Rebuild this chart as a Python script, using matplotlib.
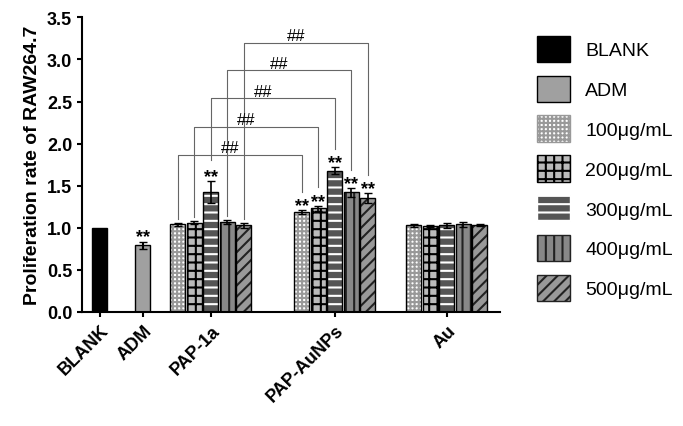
import matplotlib
matplotlib.use("Agg")
import matplotlib.pyplot as plt
import numpy as np
from matplotlib.patches import Patch

plt.rcParams['font.family'] = 'Liberation Sans'
plt.rcParams['hatch.linewidth'] = 1.5

groups = ["PAP-1a", "PAP-AuNPs", "Au"]
doses = ["100μg/mL", "200μg/mL", "300μg/mL", "400μg/mL", "500μg/mL"]
blank_val = 1.0
adm_val, adm_err = 0.79, 0.04
group_vals = [[1.04, 1.06, 1.43, 1.07, 1.03],
              [1.19, 1.23, 1.68, 1.42, 1.35],
              [1.03, 1.02, 1.03, 1.04, 1.03]]
group_errs = [[0.02, 0.02, 0.13, 0.02, 0.03],
              [0.02, 0.03, 0.04, 0.05, 0.06],
              [0.02, 0.01, 0.03, 0.03, 0.01]]
bracket_levels = [1.87, 2.2, 2.54, 2.87, 3.2]

styles = [dict(fc='white', hatch='++++', hc='#999999'),
          dict(fc='#bbbbbb', hatch='++', hc='black'),
          dict(fc='#555555', hatch='--', hc='white'),
          dict(fc='#888888', hatch='||', hc='#222222'),
          dict(fc='#999999', hatch='///', hc='#222222')]

fig = plt.figure(figsize=(6.83, 4.27), dpi=100)
ax = fig.add_axes([0.12, 0.267, 0.612, 0.69])
w = 15
step = 16.5
ax.bar(100, blank_val, w, color='black', edgecolor='black')
ax.bar(143, adm_val, w, color='#a0a0a0', edgecolor='black', yerr=adm_err, capsize=3)
ax.text(143, adm_val + adm_err + 0.01, "**", ha='center', fontsize=13, fontweight='bold')
centers = [211, 335, 447]
xs_all = []
for gi, c in enumerate(centers):
    xs = c + (np.arange(5) - 2) * step
    xs_all.append(xs)
    for i, x in enumerate(xs):
        s = styles[i]
        ax.bar(x, group_vals[gi][i], w, color=s['fc'], edgecolor=s['hc'], hatch=s['hatch'], linewidth=0)
        ax.bar(x, group_vals[gi][i], w, fill=False, edgecolor='black', linewidth=1,
               yerr=group_errs[gi][i], capsize=3, error_kw=dict(lw=1.2))
        if gi < 2 and not (gi == 0 and i != 2):
            ax.text(x, group_vals[gi][i] + group_errs[gi][i], "**", ha='center',
                    fontsize=13, fontweight='bold')
for i in range(5):
    x1, x2 = xs_all[0][i], xs_all[1][i]
    lv = bracket_levels[i]
    y1 = group_vals[0][i] + group_errs[0][i] + (0.24 if i == 2 else 0.05)
    y2 = group_vals[1][i] + group_errs[1][i] + 0.22
    ax.plot([x1, x1, x2, x2], [y1, lv, lv, y2], color='#666666', lw=0.8)
    ax.text((x1 + x2) / 2 - 10, lv + 0.03, "##", ha='center', fontsize=12)

ax.set_ylim(0, 3.5)
ax.set_xlim(82, 500)
ax.set_yticks(np.arange(0, 3.51, 0.5))
ax.set_yticklabels([f"{v:.1f}" for v in np.arange(0, 3.51, 0.5)], fontsize=13, fontweight='bold')
ax.set_xticks([100, 143] + centers)
ax.set_xticklabels(["BLANK", "ADM"] + groups, rotation=45, ha='right', rotation_mode='anchor',
                   fontsize=13, fontweight='bold')
ax.set_ylabel("Proliferation rate of RAW264.7", fontsize=14, fontweight='bold')
for sp in ['top', 'right']:
    ax.spines[sp].set_visible(False)
for sp in ['left', 'bottom']:
    ax.spines[sp].set_linewidth(1.5)
ax.tick_params(width=1.5)

handles = [Patch(facecolor='black', edgecolor='black', label='BLANK'),
           Patch(facecolor='#a0a0a0', edgecolor='black', label='ADM')]
for i, s in enumerate(styles):
    handles.append(Patch(facecolor=s['fc'], edgecolor=s['hc'], hatch=s['hatch'], label=doses[i]))
fig.legend(handles=handles, loc='upper left', bbox_to_anchor=(0.76, 0.955), frameon=False,
           fontsize=14, handlelength=1.7, handleheight=1.7, labelspacing=0.7)
fig.savefig("out.png", dpi=100)
